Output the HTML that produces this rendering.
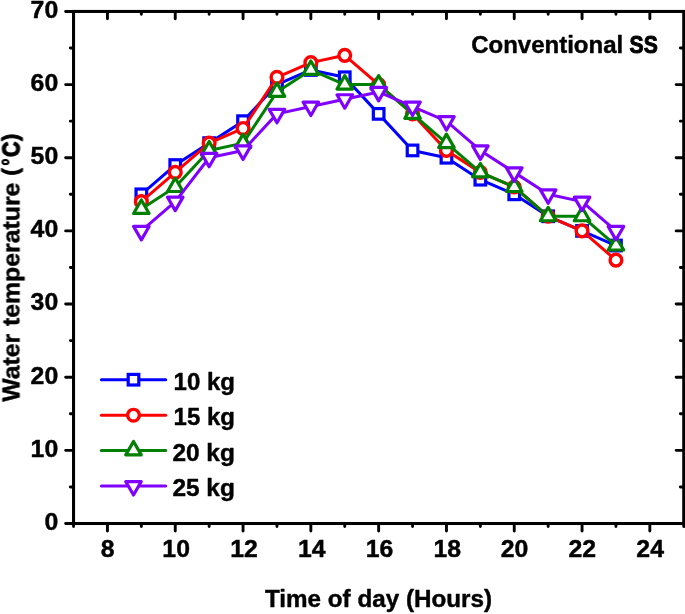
<!DOCTYPE html>
<html><head><meta charset="utf-8"><title>Chart</title>
<style>
html,body{margin:0;padding:0;background:#fff;}
svg{display:block;}
text{font-family:"Liberation Sans",sans-serif;font-weight:bold;font-size:24.8px;fill:#000;stroke:#000;stroke-width:0.45px;stroke-linejoin:round;}
</style></head><body>
<svg width="685" height="614" viewBox="0 0 685 614">
<rect width="685" height="614" fill="#fff"/>
<polyline points="141.35,194.32 175.25,165.06 209.15,143.12 243.05,121.17 276.95,84.60 310.85,69.97 344.75,77.28 378.65,113.86 412.55,150.44 446.45,157.75 480.35,179.69 514.25,194.32 548.15,216.27 582.05,230.90 615.95,245.53" fill="none" stroke="#0000ff" stroke-width="3" stroke-linejoin="round" stroke-linecap="round"/>
<rect x="136.05" y="189.02" width="10.60" height="10.60" fill="#fff" stroke="#0000ff" stroke-width="3.2"/>
<rect x="169.95" y="159.76" width="10.60" height="10.60" fill="#fff" stroke="#0000ff" stroke-width="3.2"/>
<rect x="203.85" y="137.82" width="10.60" height="10.60" fill="#fff" stroke="#0000ff" stroke-width="3.2"/>
<rect x="237.75" y="115.87" width="10.60" height="10.60" fill="#fff" stroke="#0000ff" stroke-width="3.2"/>
<rect x="271.65" y="79.30" width="10.60" height="10.60" fill="#fff" stroke="#0000ff" stroke-width="3.2"/>
<rect x="305.55" y="64.67" width="10.60" height="10.60" fill="#fff" stroke="#0000ff" stroke-width="3.2"/>
<rect x="339.45" y="71.98" width="10.60" height="10.60" fill="#fff" stroke="#0000ff" stroke-width="3.2"/>
<rect x="373.35" y="108.56" width="10.60" height="10.60" fill="#fff" stroke="#0000ff" stroke-width="3.2"/>
<rect x="407.25" y="145.13" width="10.60" height="10.60" fill="#fff" stroke="#0000ff" stroke-width="3.2"/>
<rect x="441.15" y="152.45" width="10.60" height="10.60" fill="#fff" stroke="#0000ff" stroke-width="3.2"/>
<rect x="475.05" y="174.39" width="10.60" height="10.60" fill="#fff" stroke="#0000ff" stroke-width="3.2"/>
<rect x="508.95" y="189.02" width="10.60" height="10.60" fill="#fff" stroke="#0000ff" stroke-width="3.2"/>
<rect x="542.85" y="210.97" width="10.60" height="10.60" fill="#fff" stroke="#0000ff" stroke-width="3.2"/>
<rect x="576.75" y="225.60" width="10.60" height="10.60" fill="#fff" stroke="#0000ff" stroke-width="3.2"/>
<rect x="610.65" y="240.23" width="10.60" height="10.60" fill="#fff" stroke="#0000ff" stroke-width="3.2"/>
<polyline points="141.35,201.64 175.25,172.38 209.15,143.12 243.05,128.49 276.95,77.28 310.85,62.65 344.75,55.34 378.65,84.60 412.55,113.86 446.45,150.44 480.35,172.38 514.25,187.01 548.15,216.27 582.05,230.90 615.95,260.16" fill="none" stroke="#ff0000" stroke-width="3" stroke-linejoin="round" stroke-linecap="round"/>
<circle cx="141.35" cy="201.64" r="5.85" fill="#fff" stroke="#ff0000" stroke-width="3.4"/>
<circle cx="175.25" cy="172.38" r="5.85" fill="#fff" stroke="#ff0000" stroke-width="3.4"/>
<circle cx="209.15" cy="143.12" r="5.85" fill="#fff" stroke="#ff0000" stroke-width="3.4"/>
<circle cx="243.05" cy="128.49" r="5.85" fill="#fff" stroke="#ff0000" stroke-width="3.4"/>
<circle cx="276.95" cy="77.28" r="5.85" fill="#fff" stroke="#ff0000" stroke-width="3.4"/>
<circle cx="310.85" cy="62.65" r="5.85" fill="#fff" stroke="#ff0000" stroke-width="3.4"/>
<circle cx="344.75" cy="55.34" r="5.85" fill="#fff" stroke="#ff0000" stroke-width="3.4"/>
<circle cx="378.65" cy="84.60" r="5.85" fill="#fff" stroke="#ff0000" stroke-width="3.4"/>
<circle cx="412.55" cy="113.86" r="5.85" fill="#fff" stroke="#ff0000" stroke-width="3.4"/>
<circle cx="446.45" cy="150.44" r="5.85" fill="#fff" stroke="#ff0000" stroke-width="3.4"/>
<circle cx="480.35" cy="172.38" r="5.85" fill="#fff" stroke="#ff0000" stroke-width="3.4"/>
<circle cx="514.25" cy="187.01" r="5.85" fill="#fff" stroke="#ff0000" stroke-width="3.4"/>
<circle cx="548.15" cy="216.27" r="5.85" fill="#fff" stroke="#ff0000" stroke-width="3.4"/>
<circle cx="582.05" cy="230.90" r="5.85" fill="#fff" stroke="#ff0000" stroke-width="3.4"/>
<circle cx="615.95" cy="260.16" r="5.85" fill="#fff" stroke="#ff0000" stroke-width="3.4"/>
<polyline points="141.35,208.95 175.25,187.01 209.15,150.44 243.05,143.12 276.95,91.91 310.85,69.97 344.75,84.60 378.65,84.60 412.55,113.86 446.45,143.12 480.35,172.38 514.25,187.01 548.15,216.27 582.05,216.27 615.95,245.53" fill="none" stroke="#008000" stroke-width="3" stroke-linejoin="round" stroke-linecap="round"/>
<polygon points="141.35,200.01 149.10,213.43 133.60,213.43" fill="#fff" stroke="#008000" stroke-width="3.2" stroke-linejoin="round"/>
<polygon points="175.25,178.06 183.00,191.48 167.50,191.48" fill="#fff" stroke="#008000" stroke-width="3.2" stroke-linejoin="round"/>
<polygon points="209.15,141.49 216.90,154.91 201.40,154.91" fill="#fff" stroke="#008000" stroke-width="3.2" stroke-linejoin="round"/>
<polygon points="243.05,134.17 250.80,147.59 235.30,147.59" fill="#fff" stroke="#008000" stroke-width="3.2" stroke-linejoin="round"/>
<polygon points="276.95,82.97 284.70,96.39 269.20,96.39" fill="#fff" stroke="#008000" stroke-width="3.2" stroke-linejoin="round"/>
<polygon points="310.85,61.02 318.60,74.44 303.10,74.44" fill="#fff" stroke="#008000" stroke-width="3.2" stroke-linejoin="round"/>
<polygon points="344.75,75.65 352.50,89.07 337.00,89.07" fill="#fff" stroke="#008000" stroke-width="3.2" stroke-linejoin="round"/>
<polygon points="378.65,75.65 386.40,89.07 370.90,89.07" fill="#fff" stroke="#008000" stroke-width="3.2" stroke-linejoin="round"/>
<polygon points="412.55,104.91 420.30,118.33 404.80,118.33" fill="#fff" stroke="#008000" stroke-width="3.2" stroke-linejoin="round"/>
<polygon points="446.45,134.17 454.20,147.59 438.70,147.59" fill="#fff" stroke="#008000" stroke-width="3.2" stroke-linejoin="round"/>
<polygon points="480.35,163.43 488.10,176.85 472.60,176.85" fill="#fff" stroke="#008000" stroke-width="3.2" stroke-linejoin="round"/>
<polygon points="514.25,178.06 522.00,191.48 506.50,191.48" fill="#fff" stroke="#008000" stroke-width="3.2" stroke-linejoin="round"/>
<polygon points="548.15,207.32 555.90,220.74 540.40,220.74" fill="#fff" stroke="#008000" stroke-width="3.2" stroke-linejoin="round"/>
<polygon points="582.05,207.32 589.80,220.74 574.30,220.74" fill="#fff" stroke="#008000" stroke-width="3.2" stroke-linejoin="round"/>
<polygon points="615.95,236.58 623.70,250.00 608.20,250.00" fill="#fff" stroke="#008000" stroke-width="3.2" stroke-linejoin="round"/>
<polyline points="141.35,230.90 175.25,201.64 209.15,157.75 243.05,150.44 276.95,113.86 310.85,106.54 344.75,99.23 378.65,91.91 412.55,106.54 446.45,121.17 480.35,150.44 514.25,172.38 548.15,194.32 582.05,201.64 615.95,230.90" fill="none" stroke="#8000ff" stroke-width="3" stroke-linejoin="round" stroke-linecap="round"/>
<polygon points="141.35,239.85 149.10,226.43 133.60,226.43" fill="#fff" stroke="#8000ff" stroke-width="3.2" stroke-linejoin="round"/>
<polygon points="175.25,210.59 183.00,197.17 167.50,197.17" fill="#fff" stroke="#8000ff" stroke-width="3.2" stroke-linejoin="round"/>
<polygon points="209.15,166.70 216.90,153.28 201.40,153.28" fill="#fff" stroke="#8000ff" stroke-width="3.2" stroke-linejoin="round"/>
<polygon points="243.05,159.38 250.80,145.96 235.30,145.96" fill="#fff" stroke="#8000ff" stroke-width="3.2" stroke-linejoin="round"/>
<polygon points="276.95,122.81 284.70,109.39 269.20,109.39" fill="#fff" stroke="#8000ff" stroke-width="3.2" stroke-linejoin="round"/>
<polygon points="310.85,115.49 318.60,102.07 303.10,102.07" fill="#fff" stroke="#8000ff" stroke-width="3.2" stroke-linejoin="round"/>
<polygon points="344.75,108.18 352.50,94.76 337.00,94.76" fill="#fff" stroke="#8000ff" stroke-width="3.2" stroke-linejoin="round"/>
<polygon points="378.65,100.86 386.40,87.44 370.90,87.44" fill="#fff" stroke="#8000ff" stroke-width="3.2" stroke-linejoin="round"/>
<polygon points="412.55,115.49 420.30,102.07 404.80,102.07" fill="#fff" stroke="#8000ff" stroke-width="3.2" stroke-linejoin="round"/>
<polygon points="446.45,130.12 454.20,116.70 438.70,116.70" fill="#fff" stroke="#8000ff" stroke-width="3.2" stroke-linejoin="round"/>
<polygon points="480.35,159.38 488.10,145.96 472.60,145.96" fill="#fff" stroke="#8000ff" stroke-width="3.2" stroke-linejoin="round"/>
<polygon points="514.25,181.33 522.00,167.91 506.50,167.91" fill="#fff" stroke="#8000ff" stroke-width="3.2" stroke-linejoin="round"/>
<polygon points="548.15,203.27 555.90,189.85 540.40,189.85" fill="#fff" stroke="#8000ff" stroke-width="3.2" stroke-linejoin="round"/>
<polygon points="582.05,210.59 589.80,197.17 574.30,197.17" fill="#fff" stroke="#8000ff" stroke-width="3.2" stroke-linejoin="round"/>
<polygon points="615.95,239.85 623.70,226.43 608.20,226.43" fill="#fff" stroke="#8000ff" stroke-width="3.2" stroke-linejoin="round"/>
<rect x="73.55" y="11.45" width="610.20" height="512.05" fill="none" stroke="#000" stroke-width="3.05"/>
<path d="M73.55 523.50v3.0 M107.45 523.50v7.5 M107.45 11.45v7.3 M141.35 523.50v3.0 M141.35 11.45v2.8 M175.25 523.50v7.5 M175.25 11.45v7.3 M209.15 523.50v3.0 M209.15 11.45v2.8 M243.05 523.50v7.5 M243.05 11.45v7.3 M276.95 523.50v3.0 M276.95 11.45v2.8 M310.85 523.50v7.5 M310.85 11.45v7.3 M344.75 523.50v3.0 M344.75 11.45v2.8 M378.65 523.50v7.5 M378.65 11.45v7.3 M412.55 523.50v3.0 M412.55 11.45v2.8 M446.45 523.50v7.5 M446.45 11.45v7.3 M480.35 523.50v3.0 M480.35 11.45v2.8 M514.25 523.50v7.5 M514.25 11.45v7.3 M548.15 523.50v3.0 M548.15 11.45v2.8 M582.05 523.50v7.5 M582.05 11.45v7.3 M615.95 523.50v3.0 M615.95 11.45v2.8 M649.85 523.50v7.5 M649.85 11.45v7.3 M683.75 523.50v3.0 M73.55 523.50h-7.9 M73.55 486.93h-3.2 M683.75 486.93h-3.4 M73.55 450.35h-7.9 M683.75 450.35h-7.6 M73.55 413.77h-3.2 M683.75 413.77h-3.4 M73.55 377.20h-7.9 M683.75 377.20h-7.6 M73.55 340.62h-3.2 M683.75 340.62h-3.4 M73.55 304.05h-7.9 M683.75 304.05h-7.6 M73.55 267.47h-3.2 M683.75 267.47h-3.4 M73.55 230.90h-7.9 M683.75 230.90h-7.6 M73.55 194.32h-3.2 M683.75 194.32h-3.4 M73.55 157.75h-7.9 M683.75 157.75h-7.6 M73.55 121.17h-3.2 M683.75 121.17h-3.4 M73.55 84.60h-7.9 M683.75 84.60h-7.6 M73.55 48.02h-3.2 M683.75 48.02h-3.4 M73.55 11.45h-7.9" fill="none" stroke="#000" stroke-width="2.9" stroke-linecap="round"/>
<g style="opacity:0.999">
<text x="107.75" y="556.6" text-anchor="middle">8</text>
<text x="176.15" y="556.6" text-anchor="middle">10</text>
<text x="243.95" y="556.6" text-anchor="middle">12</text>
<text x="311.75" y="556.6" text-anchor="middle">14</text>
<text x="379.55" y="556.6" text-anchor="middle">16</text>
<text x="447.35" y="556.6" text-anchor="middle">18</text>
<text x="514.55" y="556.6" text-anchor="middle">20</text>
<text x="582.35" y="556.6" text-anchor="middle">22</text>
<text x="650.15" y="556.6" text-anchor="middle">24</text>
<text x="58.2" y="529.80" text-anchor="end">0</text>
<text x="58.2" y="456.65" text-anchor="end">10</text>
<text x="58.2" y="383.50" text-anchor="end">20</text>
<text x="58.2" y="310.35" text-anchor="end">30</text>
<text x="58.2" y="237.20" text-anchor="end">40</text>
<text x="58.2" y="164.05" text-anchor="end">50</text>
<text x="58.2" y="90.90" text-anchor="end">60</text>
<text x="58.2" y="17.75" text-anchor="end">70</text>
<text x="265" y="607.1" textLength="227" lengthAdjust="spacingAndGlyphs">Time of day (Hours)</text>
<g transform="translate(19.5 402) rotate(-90)">
<text x="0.2" y="0">Water</text>
<text x="76" y="0">temperature</text>
<text x="226.4" y="-1.6" style="font-size:21.8px;stroke-width:0.9px">(</text>
<ellipse cx="239.95" cy="-14.1" rx="2.05" ry="2.95" fill="none" stroke="#000" stroke-width="2.1"/>
<text x="245.0" y="0" textLength="15.5" lengthAdjust="spacingAndGlyphs" style="stroke-width:1.3px">C</text>
<text x="261.0" y="-1.6" style="font-size:21.8px;stroke-width:0.9px">)</text>
</g>
<text x="471.2" y="53.3" textLength="152" lengthAdjust="spacingAndGlyphs">Conventional</text>
<text x="629.6" y="53.3" textLength="28.2" lengthAdjust="spacingAndGlyphs" style="stroke-width:1.0px">SS</text>
<line x1="101.4" y1="379.7" x2="165.7" y2="379.7" stroke="#0000ff" stroke-width="3" stroke-linecap="round"/>
<rect x="128.20" y="374.40" width="10.60" height="10.60" fill="#fff" stroke="#0000ff" stroke-width="3.2"/>
<line x1="101.4" y1="415.2" x2="165.7" y2="415.2" stroke="#ff0000" stroke-width="3" stroke-linecap="round"/>
<circle cx="133.50" cy="415.20" r="5.85" fill="#fff" stroke="#ff0000" stroke-width="3.4"/>
<line x1="101.4" y1="450.4" x2="165.7" y2="450.4" stroke="#008000" stroke-width="3" stroke-linecap="round"/>
<polygon points="133.50,441.45 141.25,454.87 125.75,454.87" fill="#fff" stroke="#008000" stroke-width="3.2" stroke-linejoin="round"/>
<line x1="101.4" y1="486.0" x2="165.7" y2="486.0" stroke="#8000ff" stroke-width="3" stroke-linecap="round"/>
<polygon points="133.50,494.95 141.25,481.53 125.75,481.53" fill="#fff" stroke="#8000ff" stroke-width="3.2" stroke-linejoin="round"/>
<text x="173.6" y="389.90" textLength="61.3" lengthAdjust="spacingAndGlyphs">10 kg</text>
<text x="173.6" y="425.40" textLength="61.3" lengthAdjust="spacingAndGlyphs">15 kg</text>
<text x="172.4" y="460.60" textLength="62.5" lengthAdjust="spacingAndGlyphs">20 kg</text>
<text x="172.4" y="496.20" textLength="62.5" lengthAdjust="spacingAndGlyphs">25 kg</text>
</g>
</svg></body></html>
